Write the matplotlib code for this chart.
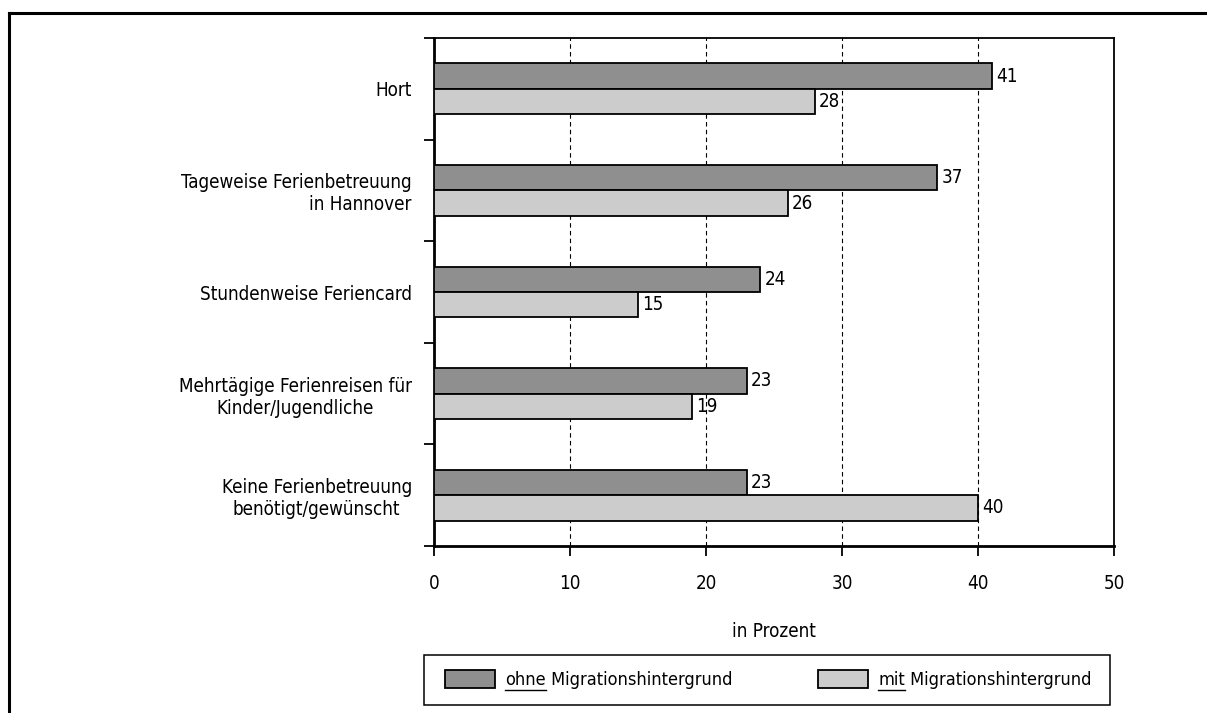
import numpy as np
import matplotlib
matplotlib.use("Agg")
import matplotlib.pyplot as plt
from matplotlib.patches import Rectangle
from matplotlib.lines import Line2D

plt.rcParams["font.family"] = ["DejaVu Sans"]
plt.rcParams["font.stretch"] = "condensed"

# data
categories = [
    "Hort",
    "Tageweise Ferienbetreuung\nin Hannover",
    "Stundenweise Feriencard",
    "Mehrtägige Ferienreisen für\nKinder/Jugendliche",
    "Keine Ferienbetreuung\nbenötigt/gewünscht",
]
label_align = ["center", "right", "center", "center", "center"]
ohne = [41, 37, 24, 23, 23]
mit = [28, 26, 15, 19, 40]
series_names = [("ohne", " Migrationshintergrund"), ("mit", " Migrationshintergrund")]
x_ticks = [0, 10, 20, 30, 40, 50]

dark = "#8f8f8f"
light = "#cccccc"
W, H = 1207, 713
FS = 13.5

fig = plt.figure(figsize=(W / 100, H / 100), dpi=100)
ax = fig.add_axes([434 / W, 1 - 546 / H, (1114 - 434) / W, (546 - 38) / H])

y = np.arange(len(categories))
bh = 0.25
ax.barh(y - bh / 2, ohne, height=bh, color=dark, edgecolor="black", linewidth=1.3, zorder=3)
ax.barh(y + bh / 2, mit, height=bh, color=light, edgecolor="black", linewidth=1.3, zorder=3)

for yi, v in zip(y - bh / 2, ohne):
    ax.annotate(str(v), (v, yi), xytext=(3, 0), textcoords="offset points",
                va="center", ha="left", fontsize=FS)
for yi, v in zip(y + bh / 2, mit):
    ax.annotate(str(v), (v, yi), xytext=(3, 0), textcoords="offset points",
                va="center", ha="left", fontsize=FS)

ax.set_xlim(0, 50)
ax.set_ylim(len(categories) - 0.5, -0.5)
ax.set_xticks(x_ticks)
ax.tick_params(axis="x", length=7, width=1.3, pad=13, labelsize=FS, direction="out")

ax.set_yticks(y)
ax.set_yticklabels(categories, fontsize=FS)
for lab, al in zip(ax.get_yticklabels(), label_align):
    lab.set_multialignment(al)
ax.tick_params(axis="y", which="major", length=0, pad=16)
ax.set_yticks(np.arange(len(categories) + 1) - 0.5, minor=True)
ax.tick_params(axis="y", which="minor", length=7, width=1.3, direction="out")

for xv in x_ticks[1:-1]:
    ax.axvline(xv, color="black", linestyle=(0, (4, 3)), linewidth=0.8, zorder=1)

for s in ax.spines.values():
    s.set_linewidth(1.3)
ax.spines["left"].set_linewidth(2)
ax.spines["bottom"].set_linewidth(2)

ax.set_xlabel("in Prozent", fontsize=FS, labelpad=21)

# outer frame (left and top edges)
fig.add_artist(Line2D([9 / W, 9 / W], [0, 1 - 13 / H], color="black", linewidth=2.2,
                      transform=fig.transFigure))
fig.add_artist(Line2D([9 / W, 1], [1 - 13 / H, 1 - 13 / H], color="black", linewidth=2.2,
                      transform=fig.transFigure))

# legend box
fig.add_artist(Rectangle((424 / W, 1 - 705 / H), (1110 - 424) / W, 50 / H,
                         transform=fig.transFigure, fill=False, edgecolor="black", linewidth=1.1))
patch_x = [445, 818]
for px, col, (under, rest) in zip(patch_x, [dark, light], series_names):
    fig.add_artist(Rectangle((px / W, 1 - 688 / H), 50 / W, 18 / H, transform=fig.transFigure,
                             facecolor=col, edgecolor="black", linewidth=1.3))
    t1 = fig.text((px + 60) / W, 1 - 680 / H, under, fontsize=13, va="center", ha="left")
    fig.canvas.draw()
    bb = t1.get_window_extent()
    fig.add_artist(Line2D([bb.x0 / W, bb.x1 / W], [1 - 690 / H, 1 - 690 / H], color="black",
                          linewidth=1, transform=fig.transFigure))
    fig.text(bb.x1 / W, 1 - 680 / H, rest, fontsize=13, va="center", ha="left")

fig.savefig("out.png", dpi=100)
